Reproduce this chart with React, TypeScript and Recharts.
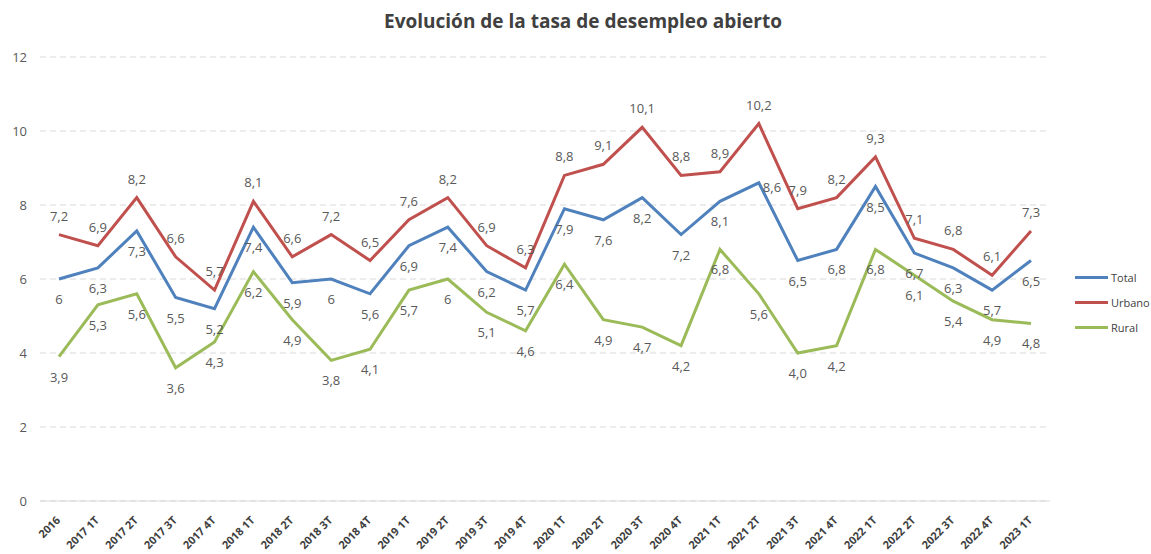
import { LineChart, Line, XAxis, YAxis, CartesianGrid, Legend, LabelList } from "recharts"

// periodos (trimestres)
const periodos = [
  "2016",
  "2017 1T", "2017 2T", "2017 3T", "2017 4T",
  "2018 1T", "2018 2T", "2018 3T", "2018 4T",
  "2019 1T", "2019 2T", "2019 3T", "2019 4T",
  "2020 1T", "2020 2T", "2020 3T", "2020 4T",
  "2021 1T", "2021 2T", "2021 3T", "2021 4T",
  "2022 1T", "2022 2T", "2022 3T", "2022 4T",
  "2023 1T",
]

const total = [6, 6.3, 7.3, 5.5, 5.2, 7.4, 5.9, 6, 5.6, 6.9, 7.4, 6.2, 5.7, 7.9, 7.6, 8.2, 7.2, 8.1, 8.6, 6.5, 6.8, 8.5, 6.7, 6.3, 5.7, 6.5]
const urbano = [7.2, 6.9, 8.2, 6.6, 5.7, 8.1, 6.6, 7.2, 6.5, 7.6, 8.2, 6.9, 6.3, 8.8, 9.1, 10.1, 8.8, 8.9, 10.2, 7.9, 8.2, 9.3, 7.1, 6.8, 6.1, 7.3]
const rural = [3.9, 5.3, 5.6, 3.6, 4.3, 6.2, 4.9, 3.8, 4.1, 5.7, 6, 5.1, 4.6, 6.4, 4.9, 4.7, 4.2, 6.8, 5.6, 4.0, 4.2, 6.8, 6.1, 5.4, 4.9, 4.8]

const yTicks = [0, 2, 4, 6, 8, 10, 12]

const data = periodos.map((p, i) => ({
  periodo: p,
  Total: total[i],
  Urbano: urbano[i],
  Rural: rural[i],
}))

const series = [
  { key: "Total", color: "#4F81BD", pos: "below" },
  { key: "Urbano", color: "#C0504D", pos: "above" },
  { key: "Rural", color: "#9BBB59", pos: "below" },
]

// etiquetas con un decimal fijo (como en el Excel)
const fixedOne: Record<string, number[]> = { Rural: [19] }
// etiquetas movidas a la derecha del punto
const toRight: Record<string, number[]> = { Total: [18] }

const FONT = "'Open Sans', 'Liberation Sans', sans-serif"

const fmt = (key: string, v: number, i: number) =>
  (fixedOne[key]?.includes(i) ? v.toFixed(1) : String(v)).replace(".", ",")

const makeLabel = (key: string, pos: string) => (props: any) => {
  const { x, y, value, index } = props
  const txt = fmt(key, Number(value), index)
  let tx = x
  let ty = pos === "above" ? y - 14 : y + 25
  let anchor: "middle" | "start" = "middle"
  if (toRight[key]?.includes(index)) {
    tx = x + 4
    ty = y + 9
    anchor = "start"
  }
  return (
    <text x={tx} y={ty} textAnchor={anchor} fontSize={13} fill="#595959" fontFamily={FONT}>
      {txt}
    </text>
  )
}

const XTick = (props: any) => {
  const { x, y, payload } = props
  return (
    <g transform={`translate(${x + 2},${y + 12})`}>
      <text
        x={0}
        y={0}
        textAnchor="end"
        transform="rotate(-45)"
        fontSize={11}
        fontWeight="bold"
        fill="#404040"
        fontFamily={FONT}
      >
        {payload.value}
      </text>
    </g>
  )
}

const Leyenda = () => (
  <div style={{ fontFamily: FONT, fontSize: 11, color: "#404040" }}>
    {series.map((s) => (
      <div key={s.key} style={{ display: "flex", alignItems: "center", height: 25 }}>
        <span style={{ display: "inline-block", width: 33, height: 3, background: s.color, marginRight: 3 }} />
        <span>{s.key}</span>
      </div>
    ))}
  </div>
)

export default function App() {
  return (
    <div style={{ position: "absolute", left: 0, top: 0, width: 1151, height: 554, background: "#fff" }}>
      <div
        style={{
          position: "absolute",
          top: 8,
          left: 0,
          width: 1166,
          textAlign: "center",
          fontFamily: FONT,
          fontWeight: "bold",
          fontSize: 19,
          color: "#404040",
        }}
      >
        Evolución de la tasa de desempleo abierto
      </div>
      <LineChart
        width={1151}
        height={554}
        data={data}
        margin={{ top: 57, right: 21, bottom: 8, left: 10 }}
      >
        <CartesianGrid vertical={false} stroke="#d9d9d9" strokeDasharray="6 4" />
        <XAxis
          dataKey="periodo"
          interval={0}
          tickLine={false}
          axisLine={{ stroke: "#d9d9d9" }}
          height={45}
          padding={{ left: 19, right: 19 }}
          tick={<XTick />}
        />
        <YAxis
          domain={[0, 12]}
          ticks={yTicks}
          width={30}
          axisLine={false}
          tickLine={false}
          tickSize={0}
          tickMargin={13}
          tick={{ fontSize: 13, fill: "#595959", fontFamily: FONT }}
        />
        <Legend
          layout="vertical"
          verticalAlign="top"
          align="right"
          content={<Leyenda />}
          wrapperStyle={{ left: 1075, top: 265, width: 80 }}
        />
        {series.map((s) => (
          <Line
            key={s.key}
            type="linear"
            dataKey={s.key}
            stroke={s.color}
            strokeWidth={3}
            dot={false}
            activeDot={false}
            isAnimationActive={false}
          >
            <LabelList dataKey={s.key} content={makeLabel(s.key, s.pos)} />
          </Line>
        ))}
      </LineChart>
    </div>
  )
}
